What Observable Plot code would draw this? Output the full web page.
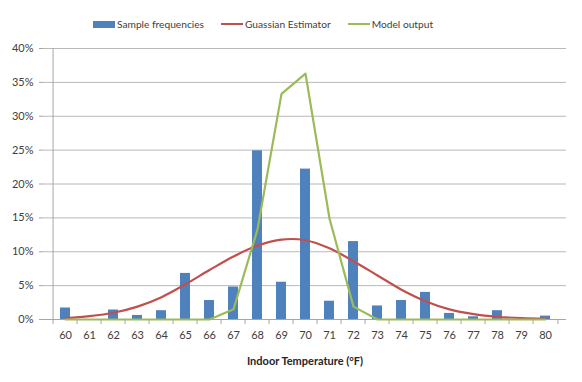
<!DOCTYPE html>
<html>
<head>
<meta charset="utf-8">
<script src="https://cdn.jsdelivr.net/npm/d3@7"></script>
<script src="https://cdn.jsdelivr.net/npm/@observablehq/plot@0.6"></script>
<style>
  body { margin: 0; background: #fff; }
  #chart { position: relative; width: 582px; height: 382px; font-family: Lato, "Open Sans", sans-serif; }
  #legend { position: absolute; top: 18px; left: 93px; display: flex; align-items: center; font-size: 10.2px; color: #404040; }
  #legend .item { display: flex; align-items: center; margin-right: 17px; }
  #legend .sw { width: 22px; margin-right: 2px; }
</style>
</head>
<body>
<div id="chart">
  <div id="legend"></div>
</div>
<script>
// Indoor temperature categories (°F)
const temps = [60, 61, 62, 63, 64, 65, 66, 67, 68, 69, 70, 71, 72, 73, 74, 75, 76, 77, 78, 79, 80];
// Observed share of samples at each temperature
const sampleFreq = [0.017, 0, 0.014, 0.006, 0.013, 0.068, 0.028, 0.048, 0.249, 0.055, 0.222, 0.027, 0.115, 0.020, 0.028, 0.040, 0.009, 0.004, 0.013, 0, 0.005];
// Gaussian fit
const gaussian = [0.002, 0.005, 0.010, 0.019, 0.033, 0.052, 0.073, 0.093, 0.109, 0.118, 0.117, 0.105, 0.086, 0.065, 0.044, 0.027, 0.015, 0.008, 0.004, 0.002, 0.001];
// Model output
const model = [0, 0, 0, 0, 0, 0, 0, 0.015, 0.133, 0.333, 0.363, 0.149, 0.019, 0, 0, 0, 0, 0, 0, 0, 0];
const yTicks = [0, 0.05, 0.10, 0.15, 0.20, 0.25, 0.30, 0.35, 0.40];

const blue = "#4F81BD", red = "#C0504D", green = "#9BBB59";

const rows = temps.map((t, i) => ({t, freq: sampleFreq[i], gauss: gaussian[i], model: model[i]}));

const W = 582, H = 382, mL = 43, mR = 16, mT = 48, mB = 63;
const step = (W - mL - mR) / temps.length;

const chart = Plot.plot({
  width: W, height: H,
  marginLeft: mL, marginRight: mR, marginTop: mT, marginBottom: mB,
  style: {fontFamily: "Lato, 'Open Sans', sans-serif", fontSize: "11px", color: "#404040", background: "white"},
  x: {type: "band", domain: temps, paddingInner: 0.6, paddingOuter: 0.3},
  y: {domain: [0, 0.4]},
  marks: [
    Plot.gridY(yTicks, {stroke: "#b8b8b8", strokeOpacity: 1, strokeWidth: 1}),
    Plot.barY(rows, {x: "t", y: "freq", fill: blue}),
    Plot.lineY(rows, {x: "t", y: "gauss", stroke: red, strokeWidth: 2.2, curve: "catmull-rom"}),
    Plot.lineY(rows, {x: "t", y: "model", stroke: green, strokeWidth: 2.2}),
    Plot.ruleY([0], {stroke: "#a6a6a6"}),
    Plot.ruleX([temps[0]], {dx: -step / 2, stroke: "#a6a6a6", y1: 0, y2: 0.4}),
    Plot.axisY({ticks: yTicks, tickFormat: d3.format(".0%"), tickSize: 4, tickPadding: 6, stroke: "#a6a6a6", label: null}),
    Plot.axisX({tickSize: 0, tickPadding: 12, label: null}),
    Plot.axisX({tickSize: 5, text: null, dx: -step / 2, stroke: "#a6a6a6", label: null}),
    Plot.axisX([temps[temps.length - 1]], {tickSize: 5, text: null, dx: step / 2, stroke: "#a6a6a6", label: null}),
    Plot.text(["Indoor Temperature (°F)"], {frameAnchor: "bottom", dy: 45, fontWeight: "bold", fill: "#262626"})
  ]
});
document.getElementById("chart").appendChild(chart);

// Legend row
const legend = document.getElementById("legend");
[["Sample frequencies", "bar", blue], ["Guassian Estimator", "line", red], ["Model output", "line", green]].forEach(([name, kind, color]) => {
  const item = document.createElement("div");
  item.className = "item";
  const sw = document.createElement("div");
  sw.className = "sw";
  sw.style.background = color;
  sw.style.height = kind === "bar" ? "7px" : "2px";
  item.appendChild(sw);
  const label = document.createElement("span");
  label.textContent = name;
  item.appendChild(label);
  legend.appendChild(item);
});
</script>
</body>
</html>
